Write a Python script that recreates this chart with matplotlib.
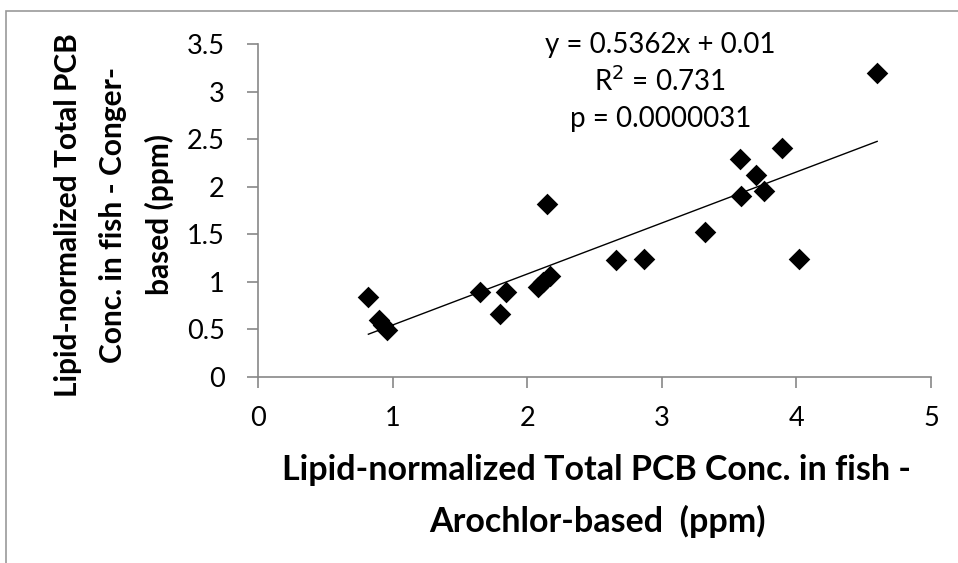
import numpy as np
import matplotlib
matplotlib.use("Agg")
from matplotlib import pyplot as plt
from matplotlib.patches import Rectangle

# Arochlor-based vs congener-based lipid-normalized total PCB (ppm)
arochlor = [0.82, 0.90, 0.93, 0.96, 1.65, 1.80, 1.84, 2.08, 2.12, 2.17, 2.15,
            2.66, 2.87, 3.32, 3.58, 3.59, 3.70, 3.76, 3.89, 4.02, 4.60]
congener = [0.84, 0.60, 0.55, 0.49, 0.89, 0.66, 0.89, 0.95, 1.00, 1.06, 1.82,
            1.23, 1.24, 1.52, 2.29, 1.90, 2.12, 1.95, 2.41, 1.24, 3.19]

slope = 0.5362
intercept = 0.01
r2 = 0.731
pval = "0.0000031"

xticks = [0, 1, 2, 3, 4, 5]
yticks = [0, 0.5, 1, 1.5, 2, 2.5, 3, 3.5]
yticklabels = ["0", "0.5", "1", "1.5", "2", "2.5", "3", "3.5"]

plt.rcParams['font.family'] = ['Lato', 'DejaVu Sans']
grey = "#878787"

fig = plt.figure(figsize=(9.58, 5.63), dpi=100)
ax = fig.add_axes([258/958, 1 - 377/563, (931 - 258)/958, (377 - 44)/563])

# outer chart frame (only left and top edges fall inside the image)
fig.add_artist(Rectangle((6/958, -0.2), 1.2, 1.2 - 11/563,
                         transform=fig.transFigure, fill=False,
                         edgecolor="#999999", lw=1.2, clip_on=False))

ax.scatter(arochlor, congener, marker="D", s=11**2, color="black",
           linewidths=0, zorder=3)

xs = np.array([min(arochlor), max(arochlor)])
ax.plot(xs, slope*xs + intercept, color="black", lw=1.0, zorder=2)

ax.set_xlim(0, 5)
ax.set_ylim(0, 3.5)
ax.set_xticks(xticks)
ax.set_yticks(yticks)
ax.set_yticklabels(yticklabels)

for s in ["top", "right"]:
    ax.spines[s].set_visible(False)
for s in ["left", "bottom"]:
    ax.spines[s].set_color(grey)
    ax.spines[s].set_linewidth(1.2)
ax.tick_params(axis="both", direction="out", color=grey, width=1.2,
               length=8, labelsize=19.5)
ax.tick_params(axis="x", pad=13)
ax.tick_params(axis="y", pad=16)

ax.text(2.99, 3.49, "y = 0.5362x + 0.01", ha="center", va="center", fontsize=20)
ax.text(2.99, 3.11, "R$^2$ = %.3f" % r2, ha="center", va="center", fontsize=20)
ax.text(2.99, 2.71, "p = " + pval, ha="center", va="center", fontsize=20)

fig.text(597/958, 1 - 496/563,
         "Lipid-normalized Total PCB Conc. in fish -\nArochlor-based  (ppm)",
         ha="center", va="center", fontsize=24.5, fontweight="bold",
         linespacing=1.7)
fig.text(114/958, 1 - 215/563,
         "Lipid-normalized Total PCB\nConc. in fish - Conger-\nbased (ppm)",
         ha="center", va="center", rotation=90, fontsize=21.5,
         fontweight="bold", linespacing=1.75, multialignment="center")

fig.savefig("out.png", dpi=100)
